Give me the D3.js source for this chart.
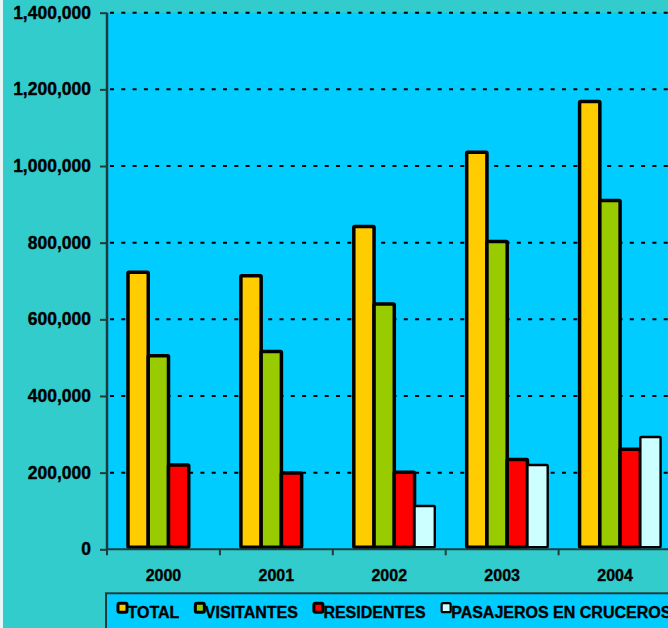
<!DOCTYPE html>
<html>
<head>
<meta charset="utf-8">
<script src="https://cdn.jsdelivr.net/npm/d3@7"></script>
<style>
    html, body { margin: 0; padding: 0; background: #33cccc; overflow: hidden; }
    svg { display: block; font-family: Arial, "Liberation Sans", sans-serif; font-weight: bold; }
    svg text { fill: #000; stroke: #000; stroke-width: 0.35px; }
</style>
</head>
<body>
<div id="chart"></div>
<script>
const years = ['2000', '2001', '2002', '2003', '2004'];
const seriesNames = ['TOTAL', 'VISITANTES', 'RESIDENTES', 'PASAJEROS EN CRUCEROS'];
const totalValues = [723000, 714000, 842000, 1036000, 1168000];
const visitantesValues = [505000, 516000, 640000, 803000, 910000];
const residentesValues = [220000, 199000, 201000, 234000, 261000];
const cruceroValues = [null, null, 113000, 220000, 293000];
const seriesColors = ['#ffcc00', '#99cc00', '#ff0000', '#ccffff'];
const yTicks = [0, 200000, 400000, 600000, 800000, 1000000, 1200000, 1400000];

const allValues = [totalValues, visitantesValues, residentesValues, cruceroValues];

const width = 668;
const height = 628;
const plot = { left: 107, top: 12.7, bottom: 549.3, bandWidth: 112.9 };

const svg = d3.select('#chart').append('svg')
    .attr('width', width)
    .attr('height', height);

svg.append('rect')
    .attr('width', width).attr('height', height)
    .attr('fill', '#33cccc');
svg.append('rect')
    .attr('width', 3).attr('height', height)
    .attr('fill', '#e6f7f7');

const x0 = d3.scaleBand()
    .domain(years)
    .range([plot.left, plot.left + plot.bandWidth * years.length]);

const x1 = d3.scaleBand()
    .domain(seriesNames)
    .range([21, 102]);

const y = d3.scaleLinear()
    .domain([0, 1400000])
    .range([plot.bottom, plot.top]);

// plot area
svg.append('rect')
    .attr('x', plot.left)
    .attr('y', plot.top)
    .attr('width', x0.range()[1] - plot.left)
    .attr('height', plot.bottom - plot.top)
    .attr('fill', '#00ccff');

// dashed gridlines
svg.append('g')
    .selectAll('line')
    .data(yTicks.filter(d => d > 0))
    .enter().append('line')
    .attr('x1', plot.left + 3)
    .attr('x2', x0.range()[1])
    .attr('y1', d => y(d))
    .attr('y2', d => y(d))
    .attr('stroke', '#000')
    .attr('stroke-width', 2)
    .attr('stroke-dasharray', '4,7.3');

// bars
const rows = years.map((year, i) => ({
    year,
    values: seriesNames.map((name, s) => ({ name, s, value: allValues[s][i] }))
}));

const groups = svg.append('g')
    .selectAll('g')
    .data(rows)
    .enter().append('g')
    .attr('transform', d => `translate(${x0(d.year)},0)`);

groups.selectAll('rect')
    .data(d => d.values.filter(v => v.value != null))
    .enter().append('rect')
    .attr('x', d => x1(d.name))
    .attr('y', d => y(d.value))
    .attr('width', x1.bandwidth())
    .attr('height', d => y(0) - y(d.value) - 2)
    .attr('rx', 1)
    .attr('fill', d => seriesColors[d.s])
    .attr('stroke', '#000')
    .attr('stroke-width', d => d.s === 3 ? 2.4 : 3.5);

// y axis
const yAxis = d3.axisLeft(y)
    .tickValues(yTicks)
    .tickSize(7)
    .tickPadding(9)
    .tickFormat(d3.format(','));

const yAxisG = svg.append('g')
    .attr('transform', `translate(${plot.left},0)`)
    .call(yAxis);
yAxisG.select('.domain').remove();
yAxisG.selectAll('.tick line').attr('stroke', '#1e3c3c').attr('stroke-width', 2);
yAxisG.selectAll('.tick text')
    .attr('fill', '#000')
    .style('font-size', '17.5px')
    .style('font-weight', 'bold')
    .style('font-family', 'Arial, "Liberation Sans", sans-serif');

svg.append('line')
    .attr('x1', plot.left).attr('x2', plot.left)
    .attr('y1', plot.top).attr('y2', plot.bottom + 1)
    .attr('stroke', '#1e3c3c').attr('stroke-width', 2.5);

// x axis
svg.append('line')
    .attr('x1', plot.left).attr('x2', x0.range()[1])
    .attr('y1', plot.bottom).attr('y2', plot.bottom)
    .attr('stroke', '#1e3c3c').attr('stroke-width', 2);

svg.append('g')
    .selectAll('line')
    .data(years)
    .enter().append('line')
    .attr('x1', d => x0(d))
    .attr('x2', d => x0(d))
    .attr('y1', plot.bottom)
    .attr('y2', plot.bottom + 6)
    .attr('stroke', '#1e3c3c')
    .attr('stroke-width', 2);

svg.append('g')
    .selectAll('text')
    .data(years)
    .enter().append('text')
    .attr('x', d => x0(d) + x0.bandwidth() / 2)
    .attr('y', 580.5)
    .attr('text-anchor', 'middle')
    .style('font-size', '16px')
    .text(d => d);

// legend
svg.append('rect')
    .attr('x', 106)
    .attr('y', 593.3)
    .attr('width', 600)
    .attr('height', 60)
    .attr('fill', '#00ccff')
    .attr('stroke', '#1e3c3c')
    .attr('stroke-width', 2);

const legend = svg.append('g');
let lx = 118;
seriesNames.forEach((name, s) => {
    legend.append('rect')
        .attr('x', lx)
        .attr('y', 603.2)
        .attr('width', 9)
        .attr('height', 9)
        .attr('rx', 1.5)
        .attr('fill', seriesColors[s])
        .attr('stroke', '#000')
        .attr('stroke-width', s === 3 ? 2.2 : 3);
    const label = legend.append('text')
        .attr('x', lx + 9.5)
        .attr('y', 618)
        .style('font-size', '16px')
        .text(name);
    lx += 9.5 + label.node().getComputedTextLength() + 16;
});
</script>
</body>
</html>
